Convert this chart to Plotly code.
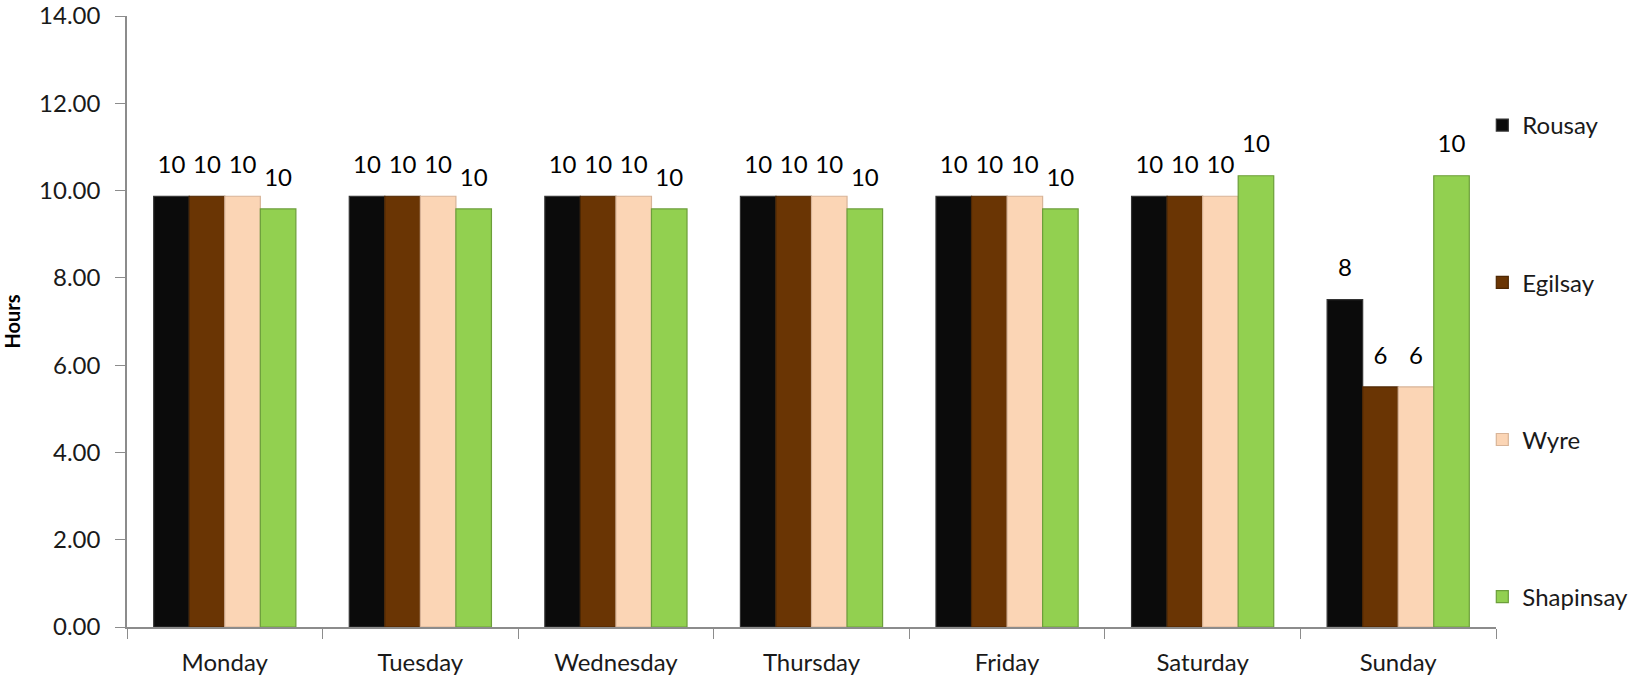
import plotly.graph_objects as go

days = ["Monday", "Tuesday", "Wednesday", "Thursday", "Friday", "Saturday", "Sunday"]
rousay = [9.87, 9.87, 9.87, 9.87, 9.87, 9.87, 7.5]
egilsay = [9.87, 9.87, 9.87, 9.87, 9.87, 9.87, 5.5]
wyre = [9.87, 9.87, 9.87, 9.87, 9.87, 9.87, 5.5]
shapinsay = [9.58, 9.58, 9.58, 9.58, 9.58, 10.34, 10.34]

series = [
    ("Rousay", rousay, "#0b0b0b", "#333333"),
    ("Egilsay", egilsay, "#6a3504", "#4e2703"),
    ("Wyre", wyre, "#fbd5b5", "#d8b498"),
    ("Shapinsay", shapinsay, "#92d050", "#6c9e3a"),
]

FONT = "Lato"
FS = 24
GAP = 0.273

fig = go.Figure()
for name, vals, col, edge in series:
    fig.add_trace(go.Bar(
        x=days, y=vals, name=name,
        marker=dict(color=col, line=dict(color=edge, width=1.2)),
        legendgroup=name, hoverinfo="x+y+name",
    ))
for name, vals, col, edge in series:
    fig.add_trace(go.Scatter(
        x=days, y=vals, mode="markers+text",
        text=[f"{v:.0f}" for v in vals], textposition="top center",
        textfont=dict(family=FONT, size=FS, color="#000"),
        marker=dict(size=26, opacity=0, color=col),
        legendgroup=name, showlegend=False, hoverinfo="skip",
        cliponaxis=False,
    ))

fig.update_layout(
    width=1646, height=680,
    margin=dict(l=127, r=150, t=16, b=53),
    paper_bgcolor="white", plot_bgcolor="white",
    barmode="group", bargap=GAP, bargroupgap=0,
    scattermode="group", scattergap=GAP,
    font=dict(family=FONT, size=FS, color="#000"),
    showlegend=True,
    legend=dict(
        xref="paper", yref="paper",
        x=0.99, y=(627 - 103) / 611, xanchor="left", yanchor="top",
        traceorder="grouped", tracegroupgap=123, maxheight=700,
        font=dict(family=FONT, size=FS, color="#1a1a1a"),
        itemwidth=30, bgcolor="rgba(0,0,0,0)",
    ),
    xaxis=dict(
        showline=True, linecolor="#8c8c8c", linewidth=1.5,
        ticks="outside", tickson="boundaries", ticklen=10, tickcolor="#8c8c8c",
        tickfont=dict(family=FONT, size=FS, color="#1a1a1a"),
        ticklabelstandoff=13, automargin=False,
        showgrid=False,
    ),
    yaxis=dict(
        range=[0, 14], dtick=2, tickformat=".2f",
        showline=True, linecolor="#8c8c8c", linewidth=1.5,
        ticks="outside", ticklen=10, tickcolor="#8c8c8c",
        tickfont=dict(family=FONT, size=FS, color="#1a1a1a"),
        ticklabelstandoff=10, ticklabeloverflow="allow", automargin=False,
        showgrid=False, zeroline=False,
        title=dict(text="<b>Hours</b>", font=dict(family=FONT, size=20, color="#000"), standoff=14),
    ),
)

fig.write_html("out.html")
